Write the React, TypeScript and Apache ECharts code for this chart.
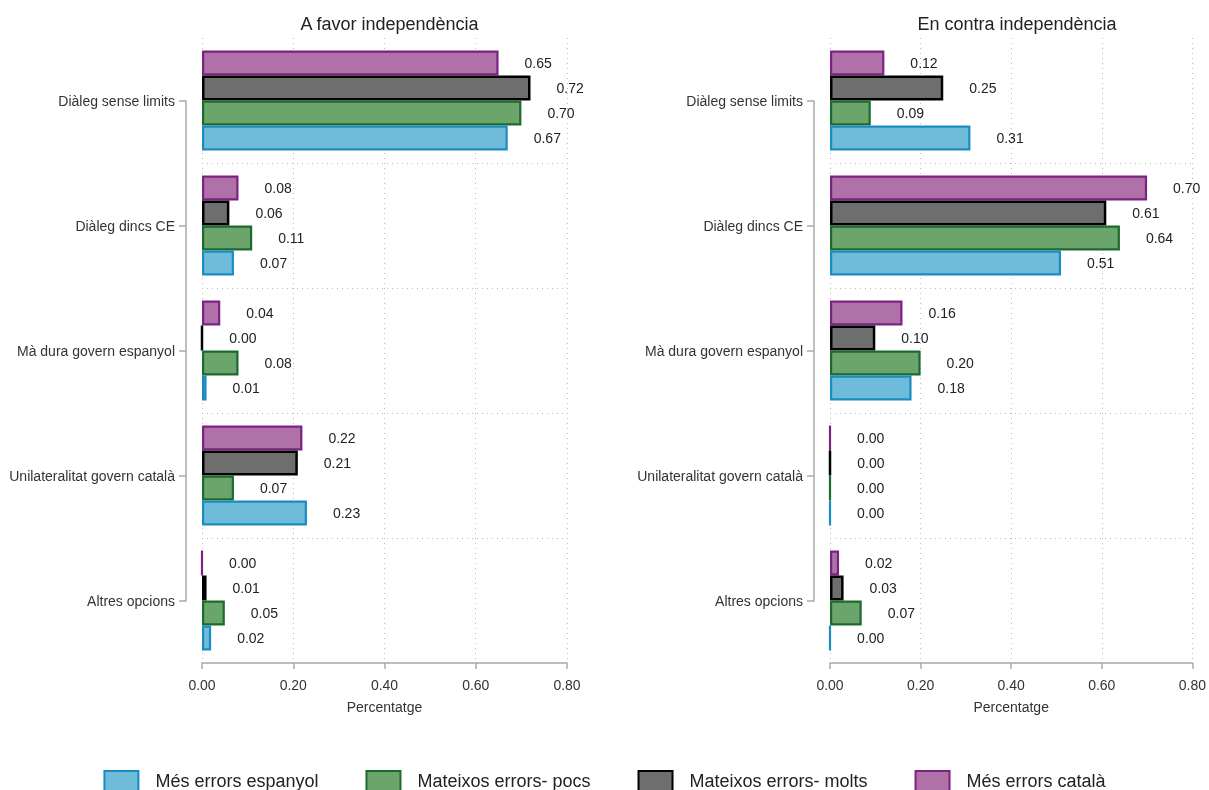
import React, { useEffect, useRef } from "react";
import * as echarts from "echarts";

const categories = [
  "Diàleg sense limits",
  "Diàleg dincs CE",
  "Mà dura govern espanyol",
  "Unilateralitat govern català",
  "Altres opcions",
];

const panelTitles = ["A favor independència", "En contra independència"];

const seriesNames = [
  "Més errors espanyol",
  "Mateixos errors- pocs",
  "Mateixos errors- molts",
  "Més errors català",
];

// A favor independència
const favorEspanyol = [0.67, 0.07, 0.01, 0.23, 0.02];
const favorPocs = [0.7, 0.11, 0.08, 0.07, 0.05];
const favorMolts = [0.72, 0.06, 0.0, 0.21, 0.01];
const favorCatala = [0.65, 0.08, 0.04, 0.22, 0.0];

// En contra independència
const contraEspanyol = [0.31, 0.51, 0.18, 0.0, 0.0];
const contraPocs = [0.09, 0.64, 0.2, 0.0, 0.07];
const contraMolts = [0.25, 0.61, 0.1, 0.0, 0.03];
const contraCatala = [0.12, 0.7, 0.16, 0.0, 0.02];

const fills = ["#6fbcda", "#6ca56c", "#6e6e6e", "#b070a8"];
const borders = ["#1a8cc0", "#1b6b2f", "#000000", "#7a2382"];

const FONT = "Liberation Sans, Arial, sans-serif";

export default function App() {
  const ref = useRef<HTMLDivElement>(null);

  useEffect(() => {
    if (!ref.current) return;
    const chart = echarts.init(ref.current, null, { renderer: "svg" });

    const panels = [
      [favorEspanyol, favorPocs, favorMolts, favorCatala],
      [contraEspanyol, contraPocs, contraMolts, contraCatala],
    ];

    const grids = [
      { left: 202, width: 365, top: 38, height: 625 },
      { left: 830, width: 364, top: 38, height: 625 },
      { left: 202, width: 365, top: 101, height: 500 },
      { left: 830, width: 364, top: 101, height: 500 },
    ];

    const xAxes: any[] = [];
    const yAxes: any[] = [];
    for (let p = 0; p < 2; p++) {
      xAxes.push({
        type: "value",
        gridIndex: p,
        min: 0,
        max: 0.8,
        interval: 0.2,
        axisLine: { show: true, lineStyle: { color: "#aaaaaa", width: 1.5 } },
        axisTick: { show: true, length: 6, lineStyle: { color: "#aaaaaa", width: 1.5 } },
        axisLabel: {
          formatter: (v: number) => v.toFixed(2),
          fontSize: 14,
          color: "#333",
          fontFamily: FONT,
          margin: 15,
        },
        splitLine: { show: true, lineStyle: { type: [1, 4], color: "#bbbbbb", width: 1 } },
        name: "Percentatge",
        nameLocation: "middle",
        nameGap: 37,
        nameTextStyle: { fontSize: 14, color: "#333", fontFamily: FONT },
      });
      yAxes.push({
        type: "category",
        gridIndex: p,
        inverse: true,
        data: categories,
        axisLine: { show: false },
        axisTick: { show: false },
        axisLabel: { show: false },
        splitLine: {
          show: true,
          interval: (i: number) => i > 0 && i < categories.length,
          lineStyle: { type: [1, 4], color: "#bbbbbb", width: 1 },
        },
      });
    }
    for (let p = 0; p < 2; p++) {
      xAxes.push({ type: "value", gridIndex: p + 2, show: false, min: 0, max: 0.8 });
      yAxes.push({
        type: "category",
        gridIndex: p + 2,
        inverse: true,
        boundaryGap: false,
        data: categories,
        offset: 16,
        axisLine: { show: true, onZero: false, lineStyle: { color: "#aaaaaa", width: 1.5 } },
        axisTick: { show: true, length: 7, lineStyle: { color: "#aaaaaa", width: 1.5 } },
        axisLabel: { fontSize: 14, color: "#333", fontFamily: FONT, margin: 11 },
        splitLine: { show: false },
      });
    }

    const series: any[] = [];
    const order = [3, 2, 1, 0];
    for (let p = 0; p < 2; p++) {
      for (const s of order) {
        series.push({
          type: "bar",
          name: seriesNames[s],
          xAxisIndex: p,
          yAxisIndex: p,
          data: panels[p][s],
          barGap: "0%",
          barCategoryGap: "20%",
          itemStyle: {
            color: fills[s],
            borderColor: borders[s],
            borderWidth: s === 2 ? 2.5 : 2.2,
          },
          label: {
            show: true,
            position: "right",
            distance: 26,
            formatter: (d: any) => Number(d.value).toFixed(2),
            fontSize: 14,
            color: "#222",
            fontFamily: FONT,
          },
        });
      }
    }
    // invisible helper series so that the category axes of the overlay grids are laid out
    for (let p = 0; p < 2; p++) {
      series.push({
        type: "scatter",
        name: "axis-helper-" + p,
        xAxisIndex: p + 2,
        yAxisIndex: p + 2,
        data: categories.map(() => 0),
        symbolSize: 0,
        silent: true,
        itemStyle: { opacity: 0 },
      });
    }

    chart.setOption({
      animation: false,
      textStyle: { fontFamily: FONT },
      title: panelTitles.map((t, i) => ({
        text: t,
        left: i === 0 ? 384.5 : 1012,
        textAlign: "center",
        top: 10,
        textStyle: { fontSize: 18, fontWeight: "normal", color: "#222", fontFamily: FONT },
      })),
      grid: grids,
      xAxis: xAxes,
      yAxis: yAxes,
      legend: {
        data: seriesNames,
        top: 765,
        left: "center",
        itemWidth: 34,
        itemHeight: 20,
        itemGap: 47,
        icon: "rect",
        selectedMode: false,
        textStyle: { fontSize: 18, color: "#222", fontFamily: FONT, padding: [0, 0, 0, 12] },
      },
      series,
    });

    return () => chart.dispose();
  }, []);

  return (
    <div
      ref={ref}
      style={{ position: "fixed", left: 0, top: 0, width: 1209, height: 790 }}
    />
  );
}
